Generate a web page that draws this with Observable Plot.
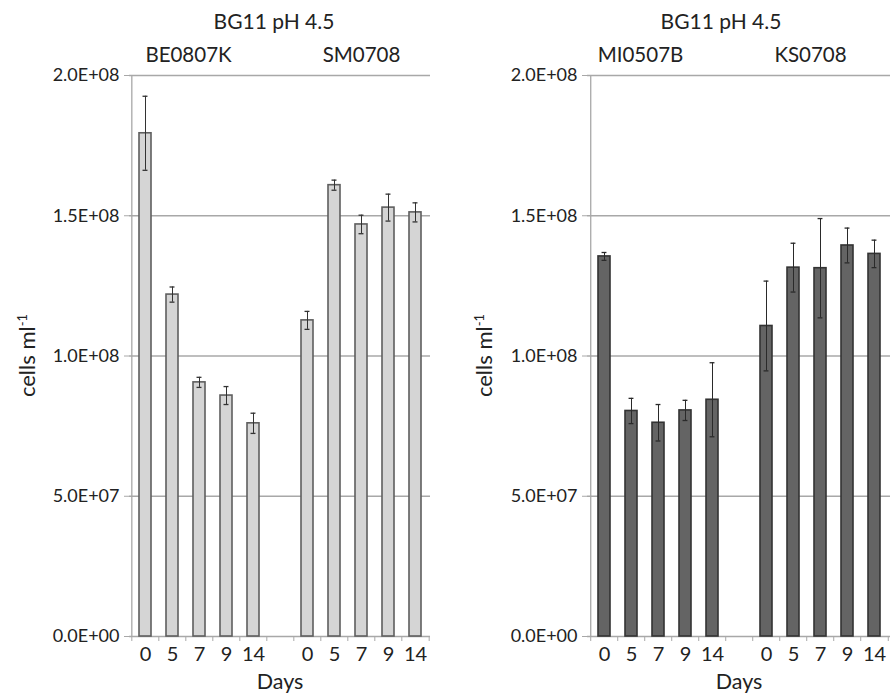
<!DOCTYPE html>
<html><head><meta charset="utf-8">
<script src="https://cdn.jsdelivr.net/npm/d3@7"></script>
<script src="https://cdn.jsdelivr.net/npm/@observablehq/plot@0.6"></script>
<style>
body{margin:0;background:#fff;}
#wrap{position:relative;width:894px;height:695px;font-family:Lato, sans-serif;}
#wrap svg{position:absolute;top:0;}
</style></head><body><div id="wrap"></div>
<script>
// ---- data (cells ml-1, in millions) ----
const panelTitle = "BG11 pH 4.5";
const days = ["0", "5", "7", "9", "14"];
const yTicks = [0, 5e7, 1e8, 1.5e8, 2e8];
const yTickLabels = ["0.0E+00", "5.0E+07", "1.0E+08", "1.5E+08", "2.0E+08"];
const leftStrains = ["BE0807K", "SM0708"];
const rightStrains = ["MI0507B", "KS0708"];
const be0807kMean = [179.4, 121.9, 90.6, 85.9, 76.0];
const be0807kErr  = [13.2, 2.7, 1.8, 3.2, 3.6];
const sm0708Mean  = [112.7, 160.9, 146.9, 152.9, 151.2];
const sm0708Err   = [3.2, 1.8, 3.3, 4.8, 3.4];
const mi0507bMean = [135.5, 80.4, 76.2, 80.6, 84.4];
const mi0507bErr  = [1.4, 4.5, 6.5, 3.6, 13.2];
const ks0708Mean  = [110.7, 131.5, 131.3, 139.4, 136.4];
const ks0708Err   = [16.0, 8.7, 17.7, 6.2, 4.9];

function panel(o) {
  const rows = [], keys = [], labelOf = new Map();
  o.strains.forEach((s, g) => {
    if (g > 0) { keys.push("gap"); labelOf.set("gap", ""); }
    days.forEach((d, i) => {
      const key = s + "|" + d;
      keys.push(key); labelOf.set(key, d);
      rows.push({key, strain: s, day: d, mean: o.means[g][i] * 1e6, err: o.errs[g][i] * 1e6});
    });
  });
  const width = 447, height = 695, marginTop = 75, marginBottom = 59;
  const {marginLeft, marginRight} = o;
  const step = (width - marginLeft - marginRight) / keys.length;
  const pad = 0.56;
  const bw = step * (1 - pad);
  const capInset = (bw - 5) / 2;
  const grid = "#a8a8a8";
  const plot = Plot.plot({
    width, height, marginLeft, marginRight, marginTop, marginBottom,
    style: {fontFamily: "Lato, sans-serif", fontSize: "16px", color: "#222", background: "transparent"},
    x: {domain: keys, paddingInner: pad, paddingOuter: pad / 2, axis: null},
    y: {domain: [0, 2e8], axis: null},
    marks: [
      Plot.ruleY(yTicks, {stroke: grid, strokeWidth: 1.3}),
      Plot.ruleX([keys[0]], {dx: -step / 2, stroke: grid, strokeWidth: 1.3}),
      Plot.axisY(yTicks, {anchor: "left", tickSize: 5, tickPadding: 5, stroke: grid, fill: "#222",
        fontSize: 18, label: null, tickFormat: d => yTickLabels[yTicks.indexOf(d)]}),
      Plot.ruleX(keys, {x: d => d, y1: 0, y2: 0, insetBottom: -5, dx: -step / 2, stroke: grid}),
      Plot.ruleX([keys[keys.length - 1]], {x: d => d, y1: 0, y2: 0, insetBottom: -5, dx: step / 2, stroke: grid}),
      Plot.axisX({tickSize: 0, tickPadding: 10, fontSize: 20, fill: "#222", label: null,
        tickFormat: d => labelOf.get(d)}),
      Plot.barY(rows, {x: "key", y: "mean", fill: o.fill, stroke: o.stroke, strokeWidth: 1.6}),
      Plot.ruleX(rows, {x: "key", y1: d => d.mean - d.err, y2: d => d.mean + d.err, stroke: o.errColor, strokeWidth: 1}),
      Plot.tickY(rows, {x: "key", y: d => d.mean + d.err, insetLeft: capInset, insetRight: capInset, stroke: o.errColor, strokeWidth: 1.3}),
      Plot.tickY(rows, {x: "key", y: d => d.mean - d.err, insetLeft: capInset, insetRight: capInset, stroke: o.errColor, strokeWidth: 1.3}),
      Plot.text([panelTitle], {frameAnchor: "top", lineAnchor: "middle", dy: -53, dx: o.titleDx, fontSize: 21, fill: "#222"}),
      Plot.text([o.strains[0]], {x: d => d + "|7", text: d => d, frameAnchor: "top", lineAnchor: "middle", dy: -20, dx: o.labelDx[0], fontSize: 20.5, fill: "#222"}),
      Plot.text([o.strains[1]], {x: d => d + "|7", text: d => d, frameAnchor: "top", lineAnchor: "middle", dy: -20, dx: o.labelDx[1], fontSize: 20.5, fill: "#222"}),
      Plot.text(["Days"], {frameAnchor: "bottom", lineAnchor: "middle", dy: 46, fontSize: 21.5, fill: "#222"})
    ]
  });
  const svg = d3.select(plot).style("left", o.left + "px");
  const t = svg.append("text")
    .attr("transform", `translate(${o.ylabX},${(marginTop + height - marginBottom) / 2}) rotate(-90)`)
    .attr("text-anchor", "middle").attr("font-size", 22).attr("fill", "#222")
    .attr("font-family", "Lato, sans-serif");
  t.append("tspan").text("cells ml");
  t.append("tspan").attr("dy", -8).attr("font-size", 13).text("-1");
  return plot;
}

const wrap = document.getElementById("wrap");
wrap.appendChild(panel({
  strains: leftStrains, means: [be0807kMean, sm0708Mean], errs: [be0807kErr, sm0708Err],
  fill: "#d5d5d5", stroke: "#5e5e5e", errColor: "#333",
  left: 0, marginLeft: 129, marginRight: 17, titleDx: -6, labelDx: [-11, 0], ylabX: 35
}));
wrap.appendChild(panel({
  strains: rightStrains, means: [mi0507bMean, ks0708Mean], errs: [mi0507bErr, ks0708Err],
  fill: "#646464", stroke: "#333", errColor: "#2a2a2a",
  left: 447, marginLeft: 140, marginRight: 4, titleDx: -18, labelDx: [-18, -10], ylabX: 45
}));
</script></body></html>
